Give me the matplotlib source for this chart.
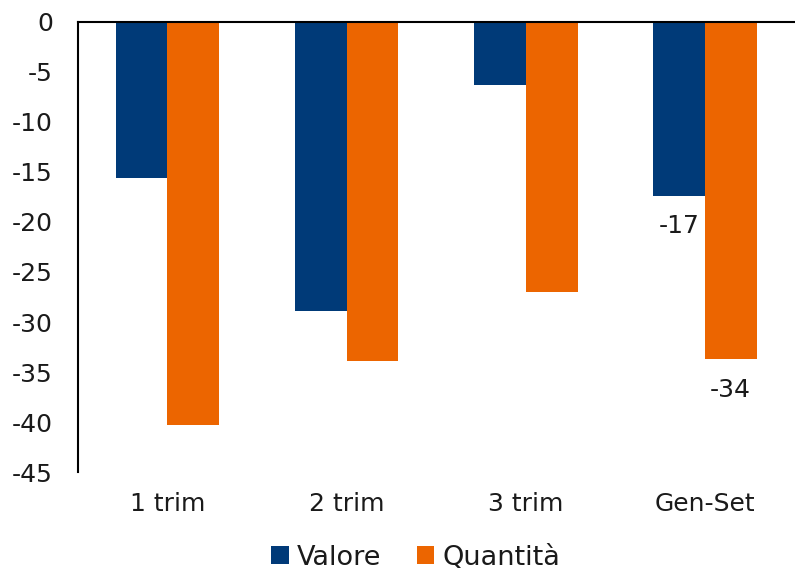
import numpy as np
import matplotlib
matplotlib.use("Agg")
import matplotlib.pyplot as plt

categories = ["1 trim", "2 trim", "3 trim", "Gen-Set"]
valore = [-15.6, -28.9, -6.3, -17.4]
quantita = [-40.3, -33.9, -27.0, -33.7]
labels_valore = [None, None, None, "-17"]
labels_quantita = [None, None, None, "-34"]

BLUE, ORANGE = "#003A78", "#EC6500"
TXT = "#1a1a1a"
FS = 18
plt.rcParams["font.family"] = ["DejaVu Sans"]
plt.rcParams["axes.unicode_minus"] = False

fig = plt.figure(figsize=(7.95, 5.75), dpi=100)
ax = fig.add_axes([0.098, 0.179, 0.901, 0.783])

x = np.arange(len(categories))
w = 0.29
b1 = ax.bar(x - w / 2, valore, w, color=BLUE, label="Valore")
b2 = ax.bar(x + w / 2, quantita, w, color=ORANGE, label="Quantità")

# value labels sit just below the end of the bar
for bars, labs in ((b1, labels_valore), (b2, labels_quantita)):
    for rect, lab in zip(bars, labs):
        if lab is None:
            continue
        ax.annotate(lab, (rect.get_x() + rect.get_width() / 2, rect.get_height()),
                    xytext=(0, -22), textcoords="offset points",
                    ha="center", va="center", fontsize=FS, color=TXT)

ax.set_xlim(-0.5, len(categories) - 0.5)
ax.set_ylim(-45, 0)
ax.set_yticks(np.arange(-45, 1, 5))
ax.set_xticks(x)
ax.set_xticklabels(categories)
ax.tick_params(axis="both", length=0, labelsize=FS, colors=TXT)
ax.tick_params(axis="y", pad=18)
ax.tick_params(axis="x", pad=14)
for s in ("right", "bottom"):
    ax.spines[s].set_visible(False)
ax.spines["left"].set_linewidth(1.5)
ax.spines["top"].set_linewidth(1.5)

fig.legend(loc="lower center", bbox_to_anchor=(0.523, -0.035), ncol=2, frameon=False,
           fontsize=19.5, handlelength=0.65, handleheight=0.65, handletextpad=0.3,
           columnspacing=1.3, labelcolor=TXT)

fig.savefig("out.png", dpi=100)
